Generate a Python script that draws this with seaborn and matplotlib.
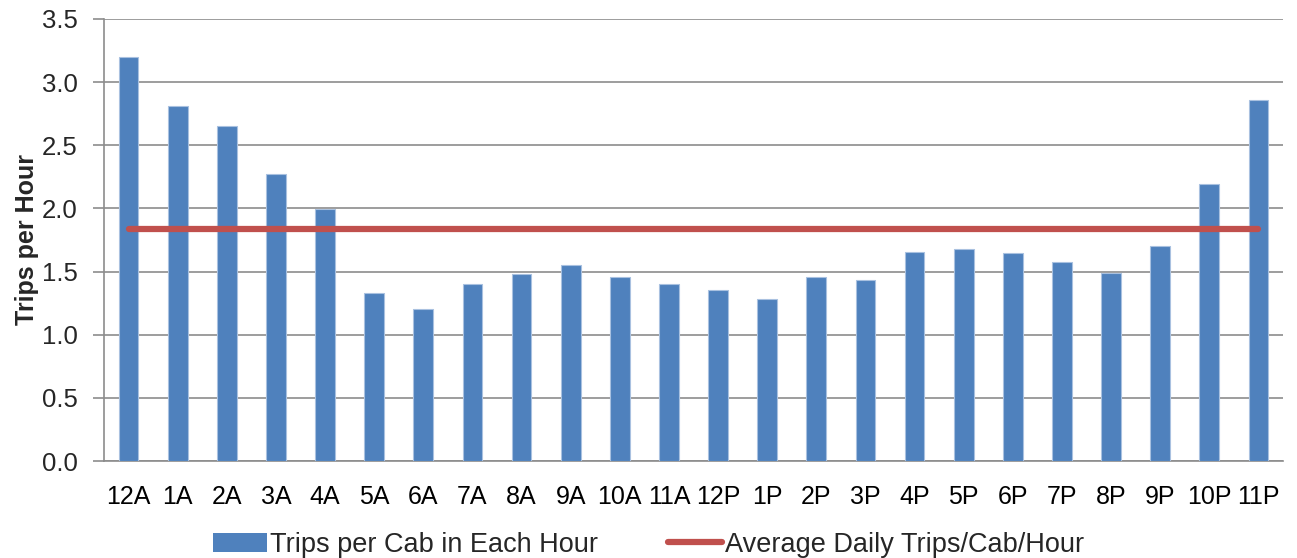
import numpy as np
import pandas as pd
import matplotlib
matplotlib.use("Agg")
import matplotlib.pyplot as plt
from matplotlib.patches import Patch
from matplotlib.lines import Line2D
import seaborn as sns

hours = ["12A", "1A", "2A", "3A", "4A", "5A", "6A", "7A", "8A", "9A", "10A", "11A",
         "12P", "1P", "2P", "3P", "4P", "5P", "6P", "7P", "8P", "9P", "10P", "11P"]
trips_per_cab = [3.20, 2.81, 2.655, 2.27, 1.995, 1.333, 1.20, 1.40, 1.483, 1.552, 1.454, 1.404,
                 1.354, 1.283, 1.454, 1.433, 1.652, 1.676, 1.644, 1.573, 1.491, 1.702, 2.193, 2.856]
avg_daily = [1.834] * len(hours)
y_ticks = [0.0, 0.5, 1.0, 1.5, 2.0, 2.5, 3.0, 3.5]

series_bar = "Trips per Cab in Each Hour"
series_line = "Average Daily Trips/Cab/Hour"
bar_color = "#4F81BD"
line_color = "#C0504D"
grid_color = "#8C8C8C"

sns.set_theme(style="white")
plt.rcParams["font.family"] = ["Liberation Sans", "DejaVu Sans"]

df = pd.DataFrame({"hour": hours, "trips": trips_per_cab})

fig = plt.figure(figsize=(12.97, 5.58), dpi=100)
ax = fig.add_axes([0.0802, 0.1738, 0.909, 0.7922])

sns.barplot(data=df, x="hour", y="trips", order=hours, color=bar_color,
            width=0.4, saturation=1, edgecolor="#A9C1E0", linewidth=0.8, ax=ax, zorder=3)
ax.plot(np.arange(len(hours)), avg_daily, color=line_color, lw=4.5,
        solid_capstyle="round", zorder=4)

ax.set_xlim(-0.5, len(hours) - 0.5)
ax.set_ylim(0, 3.5)
ax.set_yticks(y_ticks)
ax.set_yticklabels([f"{v:.1f}" for v in y_ticks], fontsize=18.5)
ax.yaxis.grid(True, color=grid_color, lw=1.2, zorder=0)
ax.set_axisbelow(True)

ax.set_xticks(np.arange(len(hours)))
ax.set_xticklabels(hours, fontsize=18)
ax.set_xticks(np.arange(-0.5, len(hours)), minor=True)
ax.tick_params(axis="x", which="major", length=0, pad=17, colors="black")
ax.tick_params(axis="x", which="minor", length=7, width=1.2, color=grid_color, direction="out")
ax.tick_params(axis="y", which="major", length=8, width=1.2, color=grid_color, pad=11, left=True)

ax.set_xlabel("")
ax.set_ylabel("Trips per Hour", fontsize=18, fontweight="bold", labelpad=2)

for s in ["top", "right"]:
    ax.spines[s].set_visible(False)
for s in ["left", "bottom"]:
    ax.spines[s].set_color(grid_color)
    ax.spines[s].set_linewidth(1.2)

handles = [Patch(facecolor=bar_color, edgecolor="none"),
           Line2D([0], [0], color=line_color, lw=4.5, solid_capstyle="round")]
fig.legend(handles, [series_bar, series_line], loc="center", bbox_to_anchor=(0.5, 0.024),
           ncol=2, frameon=False, handlelength=2.0, handletextpad=0.1, columnspacing=2.6,
           prop={"size": 19.5})

fig.savefig("out.png", dpi=100)
